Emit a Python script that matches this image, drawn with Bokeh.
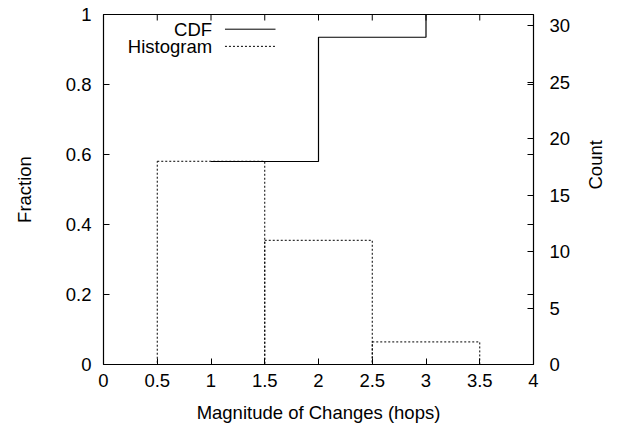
import math
from bokeh.plotting import figure
from bokeh.models import LinearAxis, Range1d, FixedTicker, Label
from bokeh.embed import file_html
from bokeh.resources import INLINE

# data
hops = [1, 2, 3]
counts = [18, 11, 2]
cdf_x = [1, 2, 3]
cdf_y = [0.58, 0.935, 1.0]
x_ticks = [0, 0.5, 1, 1.5, 2, 2.5, 3, 3.5, 4]
frac_ticks = [0, 0.2, 0.4, 0.6, 0.8, 1]
count_ticks = [0, 5, 10, 15, 20, 25, 30]
count_max = 31

FONT = "Liberation Sans"
FS = "18.5px"

p = figure(width=619, height=426, output_backend="svg", toolbar_location=None,
           x_range=Range1d(0, 4), y_range=Range1d(0, 1),
           min_border_left=103, min_border_right=85, min_border_top=14, min_border_bottom=62)
p.extra_y_ranges = {"count": Range1d(0, count_max)}
p.grid.visible = False
p.outline_line_color = "black"
p.outline_line_width = 1.2
p.background_fill_color = "white"
p.border_fill_color = "white"

def style(ax):
    ax.axis_line_color = None
    ax.major_tick_in = 6
    ax.major_tick_out = 0
    ax.minor_tick_line_color = None
    ax.major_tick_line_color = "black"
    ax.major_label_text_font = FONT
    ax.major_label_text_font_size = FS
    ax.major_label_text_color = "black"
    ax.axis_label_text_font = FONT
    ax.axis_label_text_font_size = FS
    ax.axis_label_text_font_style = "normal"
    ax.axis_label_text_color = "black"

xa = p.xaxis[0]
xa.ticker = FixedTicker(ticks=x_ticks)
xa.major_label_overrides = {0: "0", 1: "1", 2: "2", 3: "3", 4: "4"}
xa.axis_label = "Magnitude of Changes (hops)"
style(xa)
xa.major_label_standoff = 9
xa.axis_label_standoff = 12

ya = p.yaxis[0]
ya.ticker = FixedTicker(ticks=frac_ticks)
ya.major_label_overrides = {0: "0", 1: "1"}
ya.axis_label = "Fraction"
style(ya)
ya.major_label_standoff = 12
ya.axis_label_standoff = 28

ca = LinearAxis(y_range_name="count", ticker=FixedTicker(ticks=count_ticks), axis_label="Count")
style(ca)
ca.major_label_standoff = 16
ca.axis_label_standoff = 22
ca.axis_label_orientation = math.pi / 2
p.add_layout(ca, "right")

# mirrored ticks (gnuplot style): dashes centred on the border, half clipped away
p.scatter([4] * len(frac_ticks), frac_ticks, marker="dash", size=12, line_color="black", line_width=1)
p.scatter(x_ticks, [1] * len(x_ticks), marker="dash", angle=math.pi / 2, size=12,
          line_color="black", line_width=1)

# histogram boxes (count axis)
p.quad(left=[h - 0.5 for h in hops], right=[h + 0.5 for h in hops], bottom=0, top=counts,
       y_range_name="count", fill_color=None, line_color="black", line_dash="2 2", line_width=1)

# CDF steps
p.step(cdf_x, cdf_y, mode="after", line_color="black", line_width=1.2)

# key (gnuplot style: text then sample)
key_text_x = 1.01
key_line = (1.13, 1.60)
key_rows = [0.958, 0.909]
for (lab, dash), yk in zip([("CDF", "solid"), ("Histogram", "2 2")], key_rows):
    p.line(list(key_line), [yk, yk], line_color="black", line_dash=dash, line_width=1)
    p.add_layout(Label(x=key_text_x, y=yk, text=lab, text_align="right", text_baseline="middle",
                       text_font=FONT, text_font_size=FS, text_color="black"))

open("out.html", "w").write(file_html(p, INLINE))
